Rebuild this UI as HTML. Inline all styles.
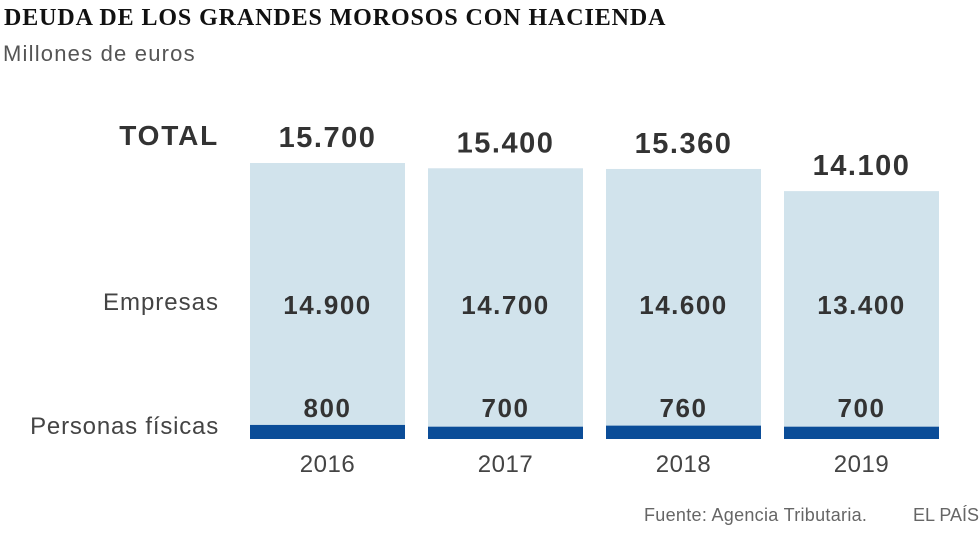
<!DOCTYPE html>
<html><head><meta charset="utf-8"><style>
body{margin:0;background:#fff;width:980px;height:542px;overflow:hidden;position:relative;font-family:"Liberation Sans",sans-serif}
.t{position:absolute;white-space:nowrap}
</style></head><body>
<div class="t" style="left:4px;top:5px;font-family:'Liberation Serif',serif;font-weight:bold;font-size:24px;color:#111;letter-spacing:0.9px">DEUDA DE LOS GRANDES MOROSOS CON HACIENDA</div>
<div class="t" style="left:3px;top:41px;font-size:22px;color:#555;letter-spacing:1.2px">Millones de euros</div>
<div class="t" style="right:761px;top:120px;font-size:28px;font-weight:bold;color:#333;letter-spacing:1.8px">TOTAL</div>
<div class="t" style="right:761px;top:289px;font-size:24px;color:#444;letter-spacing:1px">Empresas</div>
<div class="t" style="right:761px;top:413px;font-size:24px;color:#444;letter-spacing:0.8px">Personas físicas</div>
<svg id="chart" width="980" height="542" style="position:absolute;left:0;top:0"></svg>
<div class="t" style="left:644px;top:505px;font-size:18px;color:#666;letter-spacing:0.3px">Fuente: Agencia Tributaria.</div>
<div class="t" style="left:913px;top:505px;font-size:18px;color:#666">EL PAÍS</div>
<script>
const years=["2016","2017","2018","2019"];
const totals=[15700,15400,15360,14100];
const empresas=[14900,14700,14600,13400];
const personas=[800,700,760,700];
const fmt=v=>String(v).replace(/\B(?=(\d{3})+(?!\d))/g,".");
const svg=document.getElementById('chart');
const NS="http://www.w3.org/2000/svg";
const base=439, k=276/15700;
const y=v=>base-v*k;
const x0=250, step=178, bw=155;
const xb=i=>x0+i*step;
function mk(tag,attrs,txt){const e=document.createElementNS(NS,tag);for(const a in attrs)e.setAttribute(a,attrs[a]);if(txt!==undefined)e.textContent=txt;svg.appendChild(e);return e;}
years.forEach((yr,i)=>{
 const cx=xb(i)+bw/2;
 let r=mk('rect',{x:xb(i),y:y(totals[i]),width:bw,height:totals[i]*k,fill:'#d1e3ec'});
 
 
 let d=mk('rect',{x:xb(i),y:y(personas[i]),width:bw,height:personas[i]*k,fill:'#0b4d98'});
 
 
 let t=mk('text',{x:cx,y:y(totals[i])-16,'text-anchor':'middle','font-size':29,'font-weight':'bold',fill:'#333','letter-spacing':1.5,'font-family':'Liberation Sans, sans-serif'},fmt(totals[i]));
 
 
 let e=mk('text',{x:cx,y:314,'text-anchor':'middle','font-size':26,'font-weight':'bold',fill:'#333','letter-spacing':1.5,'font-family':'Liberation Sans, sans-serif'},fmt(empresas[i]));
 
 
 let p=mk('text',{x:cx,y:417,'text-anchor':'middle','font-size':26,'font-weight':'bold',fill:'#333','letter-spacing':1.5,'font-family':'Liberation Sans, sans-serif'},fmt(personas[i]));
 
 
 let l=mk('text',{x:cx,y:472,'text-anchor':'middle','font-size':24,fill:'#444','letter-spacing':0.5,'font-family':'Liberation Sans, sans-serif'},yr);
 
 
});
</script>
</body></html>
